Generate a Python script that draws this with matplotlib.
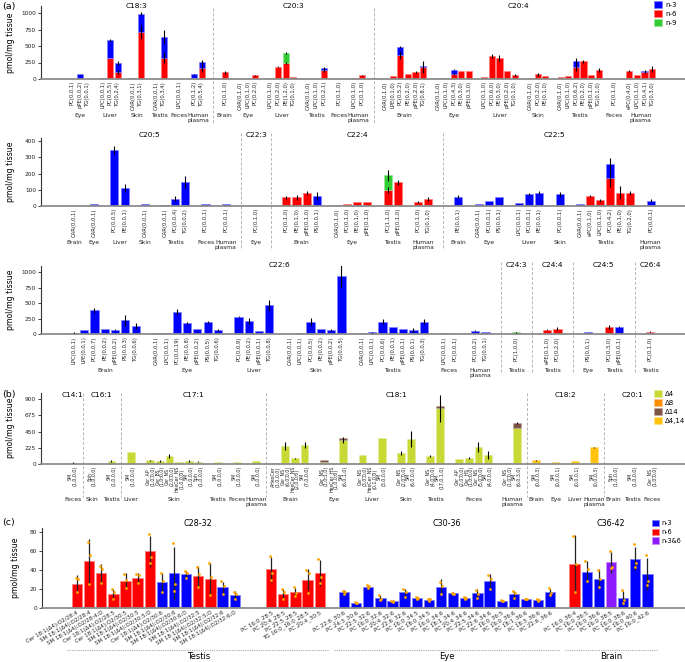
import numpy as np
import matplotlib
matplotlib.use("Agg")
import matplotlib.pyplot as plt
from matplotlib.patches import Patch
from matplotlib.colors import to_rgb
from matplotlib.transforms import blended_transform_factory

W, H = 685, 662
BLUE, RED, GREEN = "#0000ff", "#ff0000", "#33cc33"
PURPLE = "#8c1aff"
D4, D8, D14, D414 = "#c8d935", "#ff8c00", "#7d5446", "#ffc20e"
DOT = "#ffa500"

# ---------------------------------------------------------------
#  (a) row 1 : C18:3, C20:3, C20:4   (stack order n-6, n-3, n-9)
# ---------------------------------------------------------------
row1_groups = [
    ("C18:3", "Eye", 3), ("C18:3", "Liver", 3), ("C18:3", "Skin", 2), ("C18:3", "Testis", 2),
    ("C18:3", "Feces", 1), ("C18:3", "Human\nplasma", 2),
    ("C20:3", "Brain", 1), ("C20:3", "Eye", 3), ("C20:3", "Liver", 4), ("C20:3", "Testis", 3),
    ("C20:3", "Feces", 1), ("C20:3", "Human\nplasma", 2),
    ("C20:4", "Brain", 6), ("C20:4", "Eye", 5), ("C20:4", "Liver", 5), ("C20:4", "Skin", 3),
    ("C20:4", "Testis", 6), ("C20:4", "Feces", 1), ("C20:4", "Human\nplasma", 4),
]
row1_labels = [
    "PC(0,0,1)", "pPE(0,0,2)", "TG(0,0,1)", "LPC(0,0,1)", "PC(0,5,5)", "TG(0,2,4)",
    "CAR(0,0,1)", "TG(0,3,1)", "CAR(0,0,1)", "TG(0,3,4)", "LPC(0,0,1)", "PC(0,1,2)", "TG(0,5,4)",
    "PC(0,1,0)", "CAR(0,1,0)", "LPC(0,1,0)", "PC(0,2,0)", "LPC(0,1,0)", "PC(0,2,0)", "PE(1,2,0)",
    "TG(0,1,0)", "CAR(0,1,0)", "LPC(0,1,0)", "PC(0,2,1)", "PC(0,1,0)", "LPC(0,1,0)", "PC(0,1,0)",
    "CAR(0,1,0)", "LPE(0,1,0)", "PC(0,5,2)", "PE(0,2,0)", "pPE(0,2,0)", "TG(0,8,1)",
    "CAR(0,1,0)", "LPC(0,1,0)", "PC(0,4,3)", "PE(0,3,0)", "pPE(0,3,0)",
    "LPC(0,1,0)", "PC(0,6,0)", "PE(0,3,0)", "pPE(0,2,0)", "TG(0,1,0)",
    "CAR(0,1,0)", "PC(0,2,0)", "PE(0,1,0)",
    "CAR(0,1,0)", "LPC(0,1,0)", "PC(0,6,2)", "PE(0,2,0)", "pPE(0,1,0)", "TG(0,1,0)",
    "PC(0,1,0)", "ePC(0,4,0)", "LPC(0,1,0)", "PC(0,4,1)", "TG(0,3,0)",
]
row1_n6 = [0, 0, 0, 0, 320, 106, 0, 707, 0, 323, 0, 20, 167,
           100, 8, 3, 55, 20, 187, 242, 30, 5, 5, 141, 5, 18, 55,
           5, 40, 358, 80, 106, 182, 20, 8, 80, 116, 116, 35, 343, 318, 121, 60,
           20, 70, 40, 25, 40, 177, 268, 65, 136, 5, 116, 55, 106, 146]
row1_n3 = [5, 75, 3, 20, 265, 136, 12, 283, 3, 313, 3, 50, 85,
           0, 0, 0, 0, 0, 0, 0, 0, 0, 0, 25, 0, 0, 0,
           0, 0, 127, 0, 0, 15, 0, 0, 61, 0, 0, 0, 0, 0, 0, 0,
           0, 0, 0, 0, 0, 91, 0, 0, 0, 0, 0, 0, 15, 0]
row1_n9 = [0, 0, 0, 0, 0, 0, 0, 0, 0, 0, 0, 0, 0,
           0, 0, 0, 0, 0, 0, 152, 0, 0, 0, 0, 0, 0, 0,
           0, 0, 0, 0, 0, 0, 0, 0, 0, 0, 0, 0, 0, 0, 0, 0,
           0, 0, 0, 0, 0, 0, 0, 0, 0, 0, 0, 0, 0, 0]
row1_e6 = [0, 0, 0, 0, 0, 30, 0, 105, 0, 85, 0, 0, 55,
           20, 0, 0, 8, 0, 8, 10, 0, 0, 0, 35, 0, 0, 10,
           0, 0, 60, 0, 15, 95, 0, 0, 15, 0, 0, 0, 30, 45, 0, 10,
           0, 25, 0, 0, 0, 60, 25, 0, 30, 0, 15, 0, 10, 45]
row1_e3 = [0, 6, 0, 0, 15, 35, 0, 25, 0, 100, 0, 10, 30,
           0, 0, 0, 0, 0, 0, 0, 0, 0, 0, 5, 0, 0, 0,
           0, 0, 15, 0, 0, 0, 0, 0, 10, 0, 0, 0, 0, 0, 0, 0,
           0, 0, 0, 0, 0, 45, 0, 0, 0, 0, 0, 0, 8, 0]
row1_e9 = [0, 0, 0, 0, 0, 0, 0, 0, 0, 0, 0, 0, 0,
           0, 0, 0, 0, 0, 0, 8, 0, 0, 0, 0, 0, 0, 0,
           0, 0, 0, 0, 0, 0, 0, 0, 0, 0, 0, 0, 0, 0, 0, 0,
           0, 0, 0, 0, 0, 0, 0, 0, 0, 0, 0, 0, 0, 0]

# ---------------------------------------------------------------
#  (a) row 2 : C20:5, C22:3, C22:4, C22:5
# ---------------------------------------------------------------
row2_groups = [
    ("C20:5", "Brain", 1), ("C20:5", "Eye", 1), ("C20:5", "Liver", 2), ("C20:5", "Skin", 1),
    ("C20:5", "Testis", 3), ("C20:5", "Feces", 1), ("C20:5", "Human\nplasma", 1),
    ("C22:3", "Eye", 1),
    ("C22:4", "Brain", 4), ("C22:4", "Eye", 4), ("C22:4", "Testis", 2), ("C22:4", "Human\nplasma", 2),
    ("C22:5", "Brain", 1), ("C22:5", "Eye", 3), ("C22:5", "Liver", 3), ("C22:5", "Skin", 1),
    ("C22:5", "Testis", 6), ("C22:5", "Human\nplasma", 1),
]
row2_labels = [
    "CAR(0,0,1)", "CAR(0,0,1)", "PC(0,0,5)", "PE(0,0,1)", "CAR(0,0,1)", "CAR(0,0,1)", "PC(0,0,4)",
    "TG(0,0,2)", "PC(0,0,1)", "PC(0,0,1)",
    "PC(0,1,0)",
    "PC(0,1,0)", "PE(0,1,0)", "pPE(0,1,0)", "PS(0,0,1)", "CAR(0,1,0)", "PC(0,1,0)", "PE(0,1,0)",
    "pPE(0,1,0)", "PC(1,1,0)", "pPE(0,1,0)", "PC(0,1,0)", "TG(0,1,0)",
    "PE(0,0,1)", "CAR(0,0,1)", "PC(0,0,1)", "PS(0,0,1)", "LPC(0,0,1)", "PC(0,0,1)", "PE(0,0,1)",
    "PC(0,0,1)", "CAR(0,0,1)", "ePC(0,1,0)", "LPC(0,1,0)", "PC(0,4,2)", "PE(0,1,0)", "TG(0,2,0)",
    "PC(0,0,1)",
]
row2_n6 = [0, 0, 0, 0, 0, 0, 0, 0, 0, 0,
           4,
           53, 53, 82, 0, 5, 10, 25, 27, 98, 146, 25, 43,
           0, 0, 0, 0, 0, 0, 0, 0, 0, 62, 35, 170, 82, 78, 0]
row2_n3 = [3, 12, 343, 109, 12, 8, 45, 148, 14, 14,
           0,
           0, 0, 0, 59, 0, 0, 0, 0, 0, 0, 0, 0,
           57, 12, 31, 55, 20, 74, 82, 72, 10, 0, 0, 86, 0, 0, 33]
row2_n9 = [0, 0, 0, 0, 0, 0, 0, 0, 0, 0,
           0,
           0, 0, 0, 0, 0, 0, 0, 0, 91, 0, 0, 0,
           0, 0, 0, 0, 0, 0, 0, 0, 0, 0, 0, 0, 0, 0, 0]
row2_e6 = [0, 0, 0, 0, 0, 0, 0, 0, 0, 0,
           0,
           8, 15, 12, 0, 0, 0, 0, 0, 20, 15, 5, 15,
           0, 0, 0, 0, 0, 0, 0, 0, 0, 8, 8, 50, 40, 12, 0]
row2_e3 = [0, 0, 25, 25, 0, 0, 15, 35, 0, 0,
           0,
           0, 0, 0, 25, 0, 0, 0, 0, 0, 0, 0, 0,
           8, 0, 0, 0, 0, 5, 8, 15, 0, 0, 0, 40, 0, 0, 8]
row2_e9 = [0, 0, 0, 0, 0, 0, 0, 0, 0, 0,
           0,
           0, 0, 0, 0, 0, 0, 0, 0, 35, 0, 0, 0,
           0, 0, 0, 0, 0, 0, 0, 0, 0, 0, 0, 0, 0, 0, 0]

# ---------------------------------------------------------------
#  (a) row 3 : C22:6, C24:3, C24:4, C24:5, C26:4
# ---------------------------------------------------------------
row3_groups = [
    ("C22:6", "Brain", 7), ("C22:6", "Eye", 7), ("C22:6", "Liver", 4), ("C22:6", "Skin", 6),
    ("C22:6", "Testis", 7), ("C22:6", "Feces", 2), ("C22:6", "Human\nplasma", 2),
    ("C24:3", "Testis", 1),
    ("C24:4", "Testis", 2),
    ("C24:5", "Eye", 1), ("C24:5", "Testis", 2),
    ("C26:4", "Testis", 1),
]
row3_labels = [
    "LPC(0,0,1)", "LPE(0,0,1)", "PC(0,0,7)", "PE(0,0,2)", "pPE(0,0,2)", "PS(0,0,3)", "TG(0,0,6)",
    "CAR(0,0,1)", "LPC(0,0,1)", "PC(0,0,19)", "PE(0,0,8)", "pPE(0,0,2)", "PS(0,0,5)", "TG(0,0,6)",
    "PC(0,0,9)", "PE(0,0,2)", "pPE(0,0,1)", "TG(0,0,8)",
    "CAR(0,0,1)", "LPC(0,0,1)", "PC(0,0,5)", "PE(0,0,2)", "pPE(0,0,2)", "TG(0,0,5)",
    "CAR(0,0,1)", "LPC(0,0,1)", "PC(0,0,6)", "PE(0,0,1)", "pPE(0,0,1)", "PS(0,0,1)", "TG(0,0,3)",
    "LPC(0,0,1)", "PC(0,0,1)", "PC(0,0,2)", "TG(0,0,1)",
    "PC(1,0,0)",
    "ePE(0,1,0)", "PC(0,2,0)",
    "PS(0,0,1)", "PC(0,3,0)", "pPE(0,0,1)",
    "PC(0,1,0)",
]
row3_n3 = [27, 64, 385, 91, 75, 225, 128, 21, 21, 358, 182, 86, 198, 70,
           283, 219, 59, 465, 5, 21, 198, 86, 70, 936, 16, 32, 198, 112, 80, 70, 198,
           21, 2, 59, 37,
           0, 0, 0, 32, 0, 123, 0]
row3_n6 = [0, 0, 0, 0, 0, 0, 0, 0, 0, 0, 0, 0, 0, 0,
           0, 0, 0, 0, 0, 0, 0, 0, 0, 0, 0, 0, 0, 0, 0, 0, 0,
           0, 0, 0, 0,
           0, 75, 91, 0, 118, 0, 43]
row3_n9 = [0, 0, 0, 0, 0, 0, 0, 0, 0, 0, 0, 0, 0, 0,
           0, 0, 0, 0, 0, 0, 0, 0, 0, 0, 0, 0, 0, 0, 0, 0, 0,
           0, 0, 0, 0,
           32, 0, 0, 0, 0, 0, 0]
row3_e3 = [8, 0, 40, 0, 8, 85, 50, 0, 0, 45, 15, 0, 15, 15,
           8, 50, 0, 90, 0, 0, 70, 0, 15, 170, 0, 8, 40, 0, 0, 30, 40,
           0, 0, 10, 0,
           0, 0, 0, 0, 0, 8, 0]
row3_e6 = [0, 0, 0, 0, 0, 0, 0, 0, 0, 0, 0, 0, 0, 0,
           0, 0, 0, 0, 0, 0, 0, 0, 0, 0, 0, 0, 0, 0, 0, 0, 0,
           0, 0, 0, 0,
           0, 8, 20, 0, 35, 0, 8]
row3_e9 = [0, 0, 0, 0, 0, 0, 0, 0, 0, 0, 0, 0, 0, 0,
           0, 0, 0, 0, 0, 0, 0, 0, 0, 0, 0, 0, 0, 0, 0, 0, 0,
           0, 0, 0, 0,
           8, 0, 0, 0, 0, 0, 0]

# ---------------------------------------------------------------
#  (b) monounsaturated / Δ positions
# ---------------------------------------------------------------
b_groups = [
    ("C14:1", "Feces", 1),
    ("C16:1", "Skin", 1), ("C16:1", "Testis", 1),
    ("C17:1", "Liver", 1), ("C17:1", "Skin", 6), ("C17:1", "Testis", 1), ("C17:1", "Feces", 1),
    ("C17:1", "Human\nplasma", 1),
    ("C18:1", "Brain", 4), ("C18:1", "Eye", 3), ("C18:1", "Liver", 3), ("C18:1", "Skin", 2),
    ("C18:1", "Testis", 2), ("C18:1", "Feces", 4), ("C18:1", "Human\nplasma", 2),
    ("C18:2", "Brain", 1), ("C18:2", "Eye", 1), ("C18:2", "Liver", 1), ("C18:2", "Human\nplasma", 1),
    ("C20:1", "Brain", 1), ("C20:1", "Testis", 1), ("C20:1", "Feces", 1),
]
b_labels = [
    "SM\n(1,0,0,0)",
    "Sph\n(1,0,0,0)", "SM\n(1,0,0,0)",
    "SM\n(1,0,0,0)", "Cer_AP\n(1,0,0,0)", "Cer_BS\n(1,0,0,0)", "Cer_NS\n(2,0,0,0)",
    "HexCer_NS\n(1,0,0,0)", "SM\n(1,0,0,0)", "Sph\n(1,0,0,0)", "SM\n(1,0,0,0)", "SM\n(1,0,0,0)",
    "SM\n(1,0,0,0)",
    "AHexCer\n(1,0,0,0)", "Cer_NS\n(6,0,0,0)", "HexCer_NS\n(2,0,0,0)", "SM\n(7,0,0,0)",
    "Cer_NS\n(1,0,1,0)", "HexCer_HS\n(1,0,0,0)", "SM\n(6,0,1,0)",
    "Cer_NS\n(3,0,0,0)", "HexCer_NS\n(0,1,0,0)", "SM\n(3,0,0,0)",
    "Cer_NS\n(2,0,0,0)", "SM\n(6,0,0,0)",
    "Cer_NS\n(4,0,0,0)", "SM\n(17,0,1,0)",
    "Cer_AP\n(2,0,0,0)", "Cer_HS\n(1,0,0,0)", "Cer_NS\n(5,0,0,0)", "SM\n(4,0,0,0)",
    "Cer_NS\n(1,0,0,0)", "SM\n(6,0,3,0)",
    "SM\n(0,0,0,3)", "SM\n(0,0,0,1)", "SM\n(0,0,0,1)", "SM\n(0,0,0,3)",
    "Sph\n(1,0,0,0)", "SM\n(1,0,0,0)", "Cer_NS\n(1,0,0,0)",
]
b_d4 = [18, 9, 42, 166, 51, 42, 111, 32, 42, 32, 28, 23, 46,
        10, 249, 78, 258, 28, 14, 332, 125, 0, 360, 152, 350, 111, 771,
        74, 83, 240, 125, 9, 503,
        0, 0, 0, 0, 3, 4, 5]
b_d8 = [0, 0, 0, 0, 0, 0, 0, 0, 0, 0, 0, 0, 0,
        0, 0, 0, 0, 0, 0, 0, 0, 18, 0, 0, 0, 0, 0,
        0, 0, 0, 0, 0, 0,
        0, 0, 0, 0, 0, 0, 0]
b_d14 = [0, 0, 0, 0, 0, 0, 0, 0, 0, 0, 0, 0, 0,
         4, 0, 0, 0, 30, 0, 33, 0, 0, 0, 0, 0, 0, 37,
         0, 0, 0, 0, 0, 69,
         0, 0, 0, 0, 0, 0, 0]
b_d414 = [0, 0, 0, 0, 0, 0, 0, 0, 0, 0, 0, 0, 0,
          0, 0, 0, 0, 0, 0, 0, 0, 0, 0, 0, 0, 0, 0,
          0, 0, 0, 0, 0, 0,
          51, 32, 42, 231, 0, 0, 0]
b_e4 = [8, 0, 8, 5, 10, 8, 30, 0, 20, 5, 0, 0, 0,
        0, 50, 8, 40, 0, 0, 45, 5, 0, 5, 30, 110, 8, 185,
        0, 15, 70, 55, 0, 0,
        0, 0, 0, 0, 0, 0, 0]
b_e14 = [0, 0, 0, 0, 0, 0, 0, 0, 0, 0, 0, 0, 0,
         0, 0, 0, 0, 0, 0, 0, 0, 0, 0, 0, 0, 0, 0,
         0, 0, 0, 0, 0, 15,
         0, 0, 0, 0, 0, 0, 0]
b_e414 = [0, 0, 0, 0, 0, 0, 0, 0, 0, 0, 0, 0, 0,
          0, 0, 0, 0, 0, 0, 0, 0, 0, 0, 0, 0, 0, 0,
          0, 0, 0, 0, 0, 0,
          8, 0, 0, 5, 0, 0, 0]

# ---------------------------------------------------------------
#  (c) VLC-PUFA species, mean + sd + 3 replicates
# ---------------------------------------------------------------
c_groups = [("C28-32", "Testis", 14), ("C28-32", "Testis", 5), ("C30-36", "Eye", 18), ("C36-42", "Brain", 7)]
c_labels = [
    "Cer 18:1(Δ4);O2/28:4", "SM 18:1(Δ4);O2/28:4", "SM 18:1(Δ4);O2/28:4;O", "Cer 18:1(Δ4);O2/28:5",
    "Cer 18:1(Δ4);O2/30:5", "SM 18:1(Δ4);O2/30:5", "SM 18:1(Δ4);O2/30:5;O", "Cer 18:1(Δ4);O2/30:6",
    "SM 18:1(Δ4);O2/30:6", "SM 18:1(Δ4);O2/30:6;O", "SM 18:1(Δ4);O2/32:5", "SM 18:1(Δ4);O2/32:5;O",
    "SM 18:1(Δ4);O2/32:6", "SM 18:1(Δ4);O2/32:6;O",
    "PC 16:0_28:5", "PC 20:4_28:5", "PC 22:5_28:5", "TG 16:0_16:0_28:5", "PC 20:4_30:5",
    "PC 22:6_30:6", "PC 24:3_30:6", "PC 22:5_32:6", "PC 16:0_32:6", "PC 20:4_32:6", "PC 22:6_32:6",
    "PC 16:0_34:5", "PC 18:0_34:5", "PC 16:0_34:6", "PC 18:1_34:6", "PC 20:4_34:6", "PC 22:5_34:6",
    "PC 22:6_34:6", "PC 16:0_36:5", "PC 16:0_36:6", "PC 18:1_36:6", "PC 18:3_36:6", "PC 22:6_36:6",
    "PC 16:0_36:4", "PC 16:0_36:5", "PC 16:0_36:6", "PC 16:0_38:5", "PC 16:0_38:6", "PC 16:0_40:6",
    "PC 16:0_42:6",
]
c_type = ["n-6"] * 7 + ["n-3"] * 3 + ["n-6"] * 2 + ["n-3"] * 2 + ["n-6"] * 5 + ["n-3"] * 18 + \
         ["n-6", "n-3", "n-3", "n-3&6", "n-3", "n-3", "n-3"]
c_mean = [25.7, 49.6, 36.6, 15.1, 28.5, 31.7, 59.5, 27.1, 36.6, 35.9, 33.5, 31.0, 21.8, 13.4,
          40.8, 14.8, 16.9, 29.9, 37.0,
          16.9, 5.3, 22.5, 10.9, 7.0, 16.5, 10.9, 8.8, 22.5, 15.5, 10.6, 15.8, 28.5, 7.4, 15.1, 9.5, 8.1, 16.5,
          46.5, 38.4, 30.6, 48.2, 10.6, 51.8, 35.9]
c_sd = [8.6, 23, 10, 5, 8, 5, 16, 10, 28, 3, 11, 16, 5.5, 4,
        13, 5, 4, 11, 14,
        2, 1, 2, 3, 1, 4, 1, 2, 8, 1, 1, 4, 7.5, 1, 3, 1, 1, 4,
        30, 11, 10, 11, 7, 12, 17]
c_rep1 = [32, 69, 44, 20, 36, 36, 78, 37, 68, 39, 43, 47, 28, 17,
          55, 20, 22, 40, 52,
          18, 6, 24, 14, 7, 20, 12, 10, 27, 16, 12, 19, 35, 8, 18, 10, 9, 21,
          76, 50, 40, 60, 19, 67, 56]
c_rep2 = [31, 56, 41, 17, 30, 35, 54, 28, 25, 37, 36, 33, 23, 15,
          37, 17, 16, 37, 33,
          17, 5, 23, 10, 7, 17, 11, 9, 23, 15, 11, 15, 31, 7, 16, 9, 8, 16,
          46, 41, 31, 43, 8, 47, 28]
c_rep3 = [17, 25, 26, 10, 21, 26, 47, 17, 18, 32, 22, 14, 15, 9,
          30, 9, 13, 16, 26,
          15, 5, 21, 8, 6, 12, 10, 7, 15, 15, 9, 11, 20, 7, 11, 9, 7, 14,
          17, 28, 22, 42, 5, 43, 24]


def lighten(c, f=0.5):
    r, g, b = to_rgb(c)
    return (r + (1 - r) * f, g + (1 - g) * f, b + (1 - b) * f)


def positions(groups, gap_in, gap_out):
    xs, tissues, classes = [], [], []
    x, prev = 0, None
    for cls, tis, n in groups:
        if prev is not None:
            x += 1 + (gap_in if cls == prev else gap_out)
        start = x
        xs.extend(range(x, x + n))
        x = x + n - 1
        tissues.append([tis, start, x])
        if cls == prev:
            classes[-1][2] = x
        else:
            classes.append([cls, start, x])
        prev = cls
    return np.array(xs, float), tissues, classes


def make_axes(fig, left, top, right, bottom):
    return fig.add_axes([left / W, 1 - bottom / H, (right - left) / W, (bottom - top) / H])


def style(ax, ylim, yticks, xlim, ylab_x=-0.04):
    ax.set_ylim(ylim)
    ax.set_xlim(xlim)
    ax.set_yticks(yticks)
    ax.tick_params(axis="y", labelsize=4.2, length=2, width=0.6, pad=1.5, colors="#222222")
    ax.tick_params(axis="x", length=0, pad=1.5, colors="#222222")
    ax.spines["top"].set_visible(False)
    ax.spines["right"].set_visible(False)
    ax.spines["bottom"].set_color("#8c8c8c")
    ax.spines["bottom"].set_linewidth(1.3)
    ax.spines["left"].set_color("#333333")
    ax.spines["left"].set_linewidth(0.8)
    ax.set_ylabel("pmol/mg tissue", fontsize=5.6)
    ax.yaxis.set_label_coords(ylab_x, 0.5)


def stack_bars(ax, xs, series, width=0.8):
    bottom = np.zeros(len(xs))
    for vals, errs, col in series:
        vals = np.asarray(vals, float)
        errs = np.asarray(errs, float)
        on = vals > 0
        ax.bar(xs[on], vals[on], width, bottom=bottom[on], color=col,
               edgecolor=lighten(col), linewidth=0.5, zorder=2)
        top = bottom + vals
        k = errs > 0
        ax.vlines(xs[k], top[k] - errs[k], top[k] + errs[k], color="black", lw=0.8, zorder=3)
        bottom = top


def decorate(ax, xs, labels, tissues, classes, title_y, sep_y, tissue_y, tick_fs):
    ax.set_xticks(xs)
    ax.set_xticklabels(labels, rotation=90, fontsize=tick_fs, linespacing=0.9)
    tr = blended_transform_factory(ax.transData, ax.transAxes)
    for tis, a, b in tissues:
        ax.text((a + b) / 2, tissue_y, tis, transform=tr, ha="center", va="top",
                fontsize=4.3, linespacing=0.95, color="#222222")
    for i, (cls, a, b) in enumerate(classes):
        ax.text((a + b) / 2, title_y, cls, transform=tr, ha="center", va="center", fontsize=5.3)
        if i:
            xm = (classes[i - 1][2] + a) / 2
            ax.plot([xm, xm], sep_y, transform=tr, color="#b4b4b4", ls=(0, (3, 2)),
                    lw=0.7, clip_on=False)


fig = plt.figure(figsize=(W / 100, H / 100), dpi=100)

# ----- (a) row 1
ax1 = make_axes(fig, 41, 6.4, 685, 79)
x1, t1, k1 = positions(row1_groups, 1, 2)
stack_bars(ax1, x1, [(row1_n6, row1_e6, RED), (row1_n3, row1_e3, BLUE), (row1_n9, row1_e9, GREEN)])
style(ax1, (0, 1100), [0, 250, 500, 750, 1000], (-4.06, 80.3))
decorate(ax1, x1, row1_labels, t1, k1, 1.005, (0.978, -0.606), -0.468, 3.8)

# ----- (a) row 2
ax2 = make_axes(fig, 41, 137.75, 685, 206)
x2, t2, k2 = positions(row2_groups, 1, 2)
stack_bars(ax2, x2, [(row2_n6, row2_e6, RED), (row2_n3, row2_e3, BLUE), (row2_n9, row2_e9, GREEN)])
style(ax2, (0, 420), [0, 100, 200, 300, 400], (-3.26, 60.4))
decorate(ax2, x2, row2_labels, t2, k2, 1.04, (1.07, -0.645), -0.498, 3.8)

# ----- (a) row 3
ax3 = make_axes(fig, 41, 265.8, 685, 334.3)
x3, t3, k3 = positions(row3_groups, 1, 2)
stack_bars(ax3, x3, [(row3_n6, row3_e6, RED), (row3_n3, row3_e3, BLUE), (row3_n9, row3_e9, GREEN)])
style(ax3, (0, 1100), [0, 250, 500, 750, 1000], (-3.2, 59.4))
decorate(ax3, x3, row3_labels, t3, k3, 1.007, (1.055, -0.55), -0.492, 3.8)

# ----- (b)
axb = make_axes(fig, 41, 392.5, 685, 464)
xb, tb, kb = positions(b_groups, 1, 1)
stack_bars(axb, xb, [(b_d4, b_e4, D4), (b_d8, [0] * len(b_d8), D8), (b_d14, b_e14, D14),
                     (b_d414, b_e414, D414)])
style(axb, (0, 990), [0, 225, 450, 675, 900], (-3.3, 63.4))
decorate(axb, xb, b_labels, tb, kb, 0.965, (1.0, -0.465), -0.46, 3.4)

# ----- (c)
axc = make_axes(fig, 42, 528.2, 685, 608)
xc, tc, kc = positions(c_groups, 2, 1)
ccol = {"n-3": BLUE, "n-6": RED, "n-3&6": PURPLE}
cols = [ccol[t] for t in c_type]
axc.bar(xc, c_mean, 0.85, color=cols, edgecolor=[lighten(c) for c in cols], linewidth=0.6, zorder=2)
axc.vlines(xc, np.array(c_mean) - np.array(c_sd), np.array(c_mean) + np.array(c_sd),
           color="#222222", lw=0.9, zorder=3)
for reps, off in ((c_rep1, -0.1), (c_rep2, 0.08), (c_rep3, 0.0)):
    axc.plot(xc + off, reps, "o", ms=2.0, color=DOT, mew=0, zorder=4)
style(axc, (0, 84), [0, 20, 40, 60, 80], (-2.88, 50.1), ylab_x=-0.034)
axc.set_xticks(xc)
axc.set_xticklabels(c_labels, rotation=30, ha="right", va="top", rotation_mode="anchor", fontsize=4.0)
trc = blended_transform_factory(axc.transData, axc.transAxes)
merged = []
for tis, a, b in tc:
    if merged and merged[-1][0] == tis:
        merged[-1][2] = b
    else:
        merged.append([tis, a, b])
for tis, a, b in merged:
    axc.plot([a - 0.8, b + 0.8], [-0.526, -0.526], transform=trc, color="#aaaaaa",
             ls=(0, (1, 1)), lw=0.8, clip_on=False)
    axc.text((a + b) / 2, -0.614, tis, transform=trc, ha="center", va="center", fontsize=6)
for cls, a, b in kc:
    axc.text((a + b) / 2, 1.065, cls, transform=trc, ha="center", va="center", fontsize=5.8)

# ----- legends
leg_kw = dict(loc="upper left", frameon=False, fontsize=5, handlelength=1.1, handleheight=1.1,
              handletextpad=0.5, labelspacing=0.35, borderpad=0, borderaxespad=0)
fig.legend([Patch(facecolor=c, edgecolor=lighten(c), lw=0.5) for c in (BLUE, RED, GREEN)],
           ["n-3", "n-6", "n-9"], bbox_to_anchor=(654 / W, 1 - 1 / H), **leg_kw)
fig.legend([Patch(facecolor=c, edgecolor=lighten(c), lw=0.5) for c in (D4, D8, D14, D414)],
           ["Δ4", "Δ8", "Δ14", "Δ4,14"], bbox_to_anchor=(654 / W, 1 - 390 / H), **leg_kw)
leg_kw["fontsize"] = 4.7
leg_kw["handletextpad"] = 0.4
fig.legend([Patch(facecolor=c, edgecolor=lighten(c), lw=0.5) for c in (BLUE, RED, PURPLE)],
           ["n-3", "n-6", "n-3&6"], bbox_to_anchor=(652 / W, 1 - 520 / H), **leg_kw)

for lab, ypx in (("(a)", 6), ("(b)", 395), ("(c)", 523)):
    fig.text(2 / W, 1 - ypx / H, lab, fontsize=6.8, va="center", ha="left")

fig.savefig("out.png", dpi=100)
